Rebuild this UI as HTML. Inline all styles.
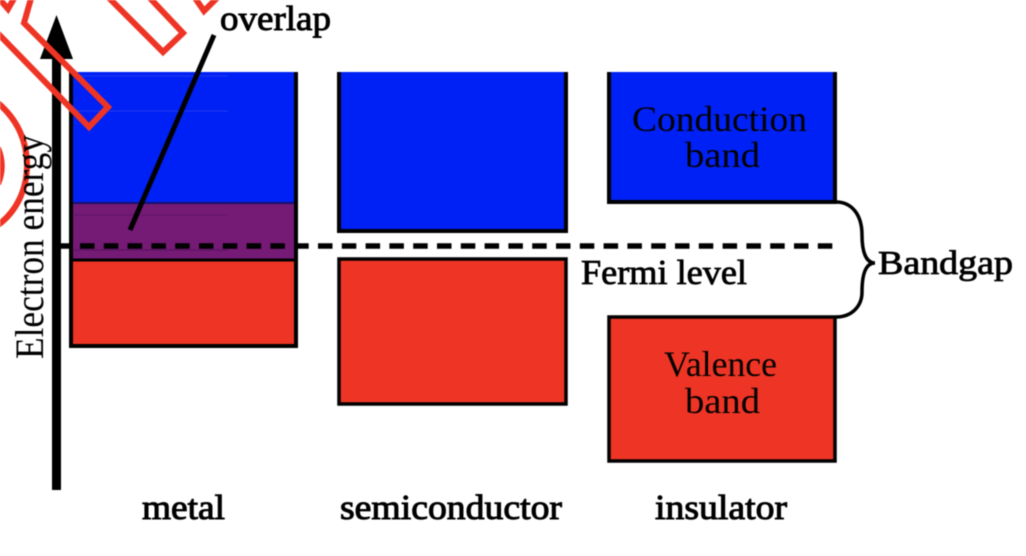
<!DOCTYPE html>
<html>
<head>
<meta charset="utf-8">
<style>
html,body{margin:0;padding:0;background:#fff;width:1026px;height:556px;overflow:hidden}
svg{display:block;filter:blur(.5px)}
text{font-family:"Liberation Serif",serif;fill:#000}
</style>
</head>
<body>
<svg width="1026" height="556" viewBox="0 0 1026 556" xmlns="http://www.w3.org/2000/svg">
<rect width="1026" height="556" fill="#fff"/>

<!-- axis -->
<rect x="52" y="55" width="9" height="435" fill="#000"/>
<polygon points="56.500,15 40,59 73,59" fill="#000"/>

<!-- metal -->
<rect x="71" y="72" width="225" height="131" fill="#0021f5"/>
<rect x="71" y="203" width="225" height="57" fill="#751a75"/>
<rect x="71" y="260" width="225" height="86" fill="#ee3424"/>
<line x1="71" y1="203" x2="296" y2="203" stroke="#16106e" stroke-width="2"/>
<line x1="71" y1="260" x2="296" y2="260" stroke="#000" stroke-width="3"/>
<path d="M71 72V346H296V72" fill="none" stroke="#000" stroke-width="4"/>
<line x1="72" y1="76" x2="228" y2="76" stroke="#4a55e8" stroke-width=".6"/>
<line x1="72" y1="111" x2="228" y2="111" stroke="#4a55e8" stroke-width=".6"/>
<line x1="72" y1="215" x2="228" y2="215" stroke="#4a1060" stroke-width=".6"/>
<line x1="72" y1="250" x2="228" y2="250" stroke="#3a0a50" stroke-width=".6"/>

<!-- semiconductor -->
<rect x="339" y="72" width="227" height="159" fill="#0021f5"/>
<path d="M339 72V231H566V72" fill="none" stroke="#000" stroke-width="4"/>
<rect x="339" y="259" width="227" height="145" fill="#ee3424" stroke="#000" stroke-width="3.500"/>

<!-- insulator -->
<rect x="609" y="72" width="226" height="130" fill="#0021f5"/>
<path d="M609 72V202H835V72" fill="none" stroke="#000" stroke-width="4"/>
<rect x="609" y="317" width="226" height="144" fill="#ee3424" stroke="#000" stroke-width="3.500"/>

<!-- fermi dashed -->
<line x1="60" y1="246" x2="71" y2="246" stroke="#000" stroke-width="5.500"/>
<line x1="80" y1="246" x2="835" y2="246" stroke="#000" stroke-width="5.500" stroke-dasharray="14.500,9.300"/>

<!-- overlap leader -->
<line x1="214" y1="35" x2="130" y2="230" stroke="#000" stroke-width="5"/>

<!-- brace -->
<path d="M836 202C852 202 862 215 862 235C862 252 866 263 875 263C866 263 862 274 862 292C862 306 852 317 836 317" fill="none" stroke="#000" stroke-width="3.500"/>

<!-- decorative red outlines -->
<g fill="none" stroke="#ee3424" stroke-width="6" stroke-linejoin="miter">
<path d="M-20 15L89 127L108 107L24 23L32 -5"/>
<path d="M106 -5L163 52L183 33L147 -5"/>
<path d="M193 -5L204 11L220 -5"/>
<path d="M-4 -5L8 9L16 -5"/>
<path d="M-2 103C18 120 27 142 27 165C27 190 16 212 -2 225"/>
<path d="M-2 148C3 160 3 172 -2 184"/>
</g>

<!-- labels -->
<g>
<text x="220" y="30" font-size="35" textLength="111" lengthAdjust="spacingAndGlyphs" stroke="#000" stroke-width=".9">overlap</text>
<text x="632" y="131" font-size="36" textLength="175" lengthAdjust="spacingAndGlyphs">Conduction</text>
<text x="685" y="167" font-size="36" textLength="75" lengthAdjust="spacingAndGlyphs">band</text>
<text x="664" y="376" font-size="36" textLength="113" lengthAdjust="spacingAndGlyphs">Valence</text>
<text x="685" y="413" font-size="36" textLength="75" lengthAdjust="spacingAndGlyphs">band</text>
<text x="581" y="284" font-size="35" textLength="166" lengthAdjust="spacingAndGlyphs" stroke="#000" stroke-width=".8">Fermi level</text>
<text x="878" y="274" font-size="34" textLength="135" lengthAdjust="spacingAndGlyphs" stroke="#000" stroke-width=".8">Bandgap</text>
<text x="142" y="519" font-size="35" textLength="83" lengthAdjust="spacingAndGlyphs" stroke="#000" stroke-width="1">metal</text>
<text x="340" y="519" font-size="35" textLength="222" lengthAdjust="spacingAndGlyphs" stroke="#000" stroke-width="1">semiconductor</text>
<text x="655" y="519" font-size="35" textLength="132" lengthAdjust="spacingAndGlyphs" stroke="#000" stroke-width="1">insulator</text>
<text transform="translate(43,359) rotate(-90)" font-size="40" textLength="224" lengthAdjust="spacingAndGlyphs">Electron energy</text>
</g>
</svg>
</body>
</html>
